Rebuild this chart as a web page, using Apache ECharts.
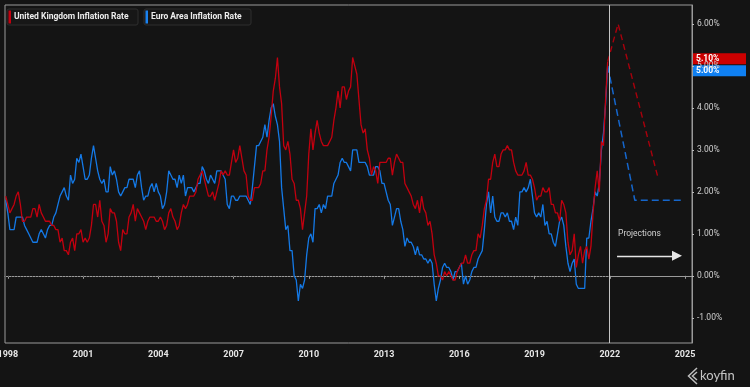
<!DOCTYPE html>
<html><head><meta charset="utf-8">
<script src="https://cdn.jsdelivr.net/npm/echarts@6/dist/echarts.min.js"></script>
<style>html,body{margin:0;padding:0;background:#141414;}#c{width:750px;height:387px;}</style>
</head><body><div id="c"></div>
<script>
// ---- DATA ----
const startYear = 1997, startMonth = 11; // first monthly observation: Nov 1997 (month-end)
const seriesNames = ['United Kingdom Inflation Rate', 'Euro Area Inflation Rate'];
const ukCPI = [
 1.9,1.7,
 1.5,1.6,1.7,1.9,2.0,1.7,1.3,1.3,1.4,1.4,1.4,1.6,
 1.6,1.4,1.7,1.5,1.4,1.3,1.3,1.3,1.2,1.2,1.1,1.1,
 0.8,0.9,0.6,0.6,0.5,0.8,0.9,0.6,1.0,1.0,1.1,0.8,
 0.9,0.8,0.9,1.2,1.7,1.7,1.4,1.8,1.3,1.2,0.8,1.0,
 1.6,1.5,1.5,1.3,0.8,0.6,1.1,1.0,1.0,1.4,1.5,1.7,
 1.3,1.6,1.5,1.4,1.3,1.1,1.3,1.4,1.4,1.4,1.3,1.3,
 1.4,1.3,1.1,1.2,1.5,1.6,1.4,1.3,1.1,1.2,1.5,1.7,
 1.6,1.7,1.9,1.9,1.9,2.0,2.3,2.4,2.5,2.3,2.1,1.9,
 1.9,2.0,1.8,2.0,2.2,2.5,2.4,2.5,2.4,2.4,2.7,3.0,
 2.7,2.8,3.1,2.8,2.5,2.4,1.9,1.8,1.8,2.1,2.1,2.1,
 2.2,2.5,2.5,3.0,3.3,3.8,4.4,4.7,5.2,4.5,4.1,3.1,
 3.0,3.2,2.9,2.3,2.2,1.8,1.8,1.6,1.1,1.5,1.9,2.9,
 3.5,3.0,3.4,3.7,3.4,3.2,3.1,3.1,3.1,3.2,3.3,3.7,
 4.0,4.4,4.0,4.5,4.5,4.2,4.4,4.5,5.2,5.0,4.8,4.2,
 3.6,3.4,3.5,3.0,2.8,2.4,2.6,2.5,2.2,2.7,2.7,2.7,
 2.7,2.8,2.8,2.4,2.7,2.9,2.8,2.7,2.7,2.2,2.1,2.0,
 1.9,1.7,1.6,1.8,1.5,1.9,1.6,1.5,1.2,1.3,1.0,0.5,
 0.3,0.0,0.0,-0.1,0.1,0.0,0.1,0.0,-0.1,-0.1,0.1,0.2,
 0.3,0.3,0.5,0.3,0.3,0.5,0.6,0.6,1.0,0.9,1.2,1.6,
 1.8,2.3,2.3,2.7,2.9,2.6,2.6,2.9,3.0,3.0,3.1,3.0,
 3.0,2.7,2.5,2.4,2.4,2.4,2.5,2.7,2.4,2.4,2.3,2.1,
 1.8,1.9,1.9,2.1,2.0,2.0,2.1,1.7,1.7,1.5,1.5,1.3,
 1.8,1.7,1.5,0.8,0.5,0.6,1.0,0.2,0.5,0.7,0.3,0.6,
 0.7,0.4,0.7,1.5,2.1,2.5,2.0,3.2,3.1,4.2,5.1
];
const eaHICP = [
 1.8,1.5,
 1.1,1.1,1.1,1.4,1.4,1.4,1.4,1.2,1.1,1.0,0.9,0.8,
 0.8,0.8,1.0,1.1,1.0,0.9,1.1,1.2,1.2,1.4,1.5,1.7,
 1.9,2.0,2.1,1.9,1.8,2.4,2.2,2.3,2.8,2.7,2.9,2.6,
 2.3,2.3,2.4,2.8,3.1,2.8,2.5,2.3,2.2,2.3,2.0,2.0,
 2.6,2.4,2.5,2.3,2.0,1.9,2.0,2.1,2.1,2.3,2.3,2.3,
 2.1,2.4,2.5,2.1,1.8,1.9,1.9,2.1,2.2,2.0,2.2,2.0,
 1.9,1.6,1.7,2.0,2.5,2.4,2.3,2.3,2.1,2.4,2.2,2.4,
 1.9,2.1,2.1,2.1,2.0,2.1,2.2,2.2,2.6,2.5,2.3,2.2,
 2.4,2.3,2.2,2.5,2.5,2.5,2.4,2.3,1.7,1.6,1.9,1.9,
 1.8,1.8,1.9,1.9,1.9,1.9,1.8,1.7,2.1,2.6,3.1,3.1,
 3.2,3.3,3.6,3.3,3.7,4.0,4.1,3.8,3.6,3.2,2.1,1.6,
 1.1,1.2,0.6,0.6,0.0,-0.1,-0.6,-0.2,-0.3,-0.1,0.5,0.9,
 1.0,0.8,1.6,1.6,1.7,1.5,1.7,1.6,1.9,1.9,1.9,2.2,
 2.3,2.4,2.7,2.8,2.7,2.7,2.6,2.5,3.0,3.0,3.0,2.7,
 2.7,2.7,2.7,2.6,2.4,2.4,2.4,2.6,2.6,2.5,2.2,2.2,
 2.0,1.8,1.7,1.2,1.4,1.6,1.6,1.3,1.1,0.7,0.9,0.8,
 0.8,0.7,0.5,0.7,0.5,0.5,0.4,0.4,0.3,0.4,0.3,-0.2,
 -0.6,-0.3,-0.1,0.2,0.3,0.2,0.2,0.1,-0.1,0.1,0.1,0.2,
 0.3,-0.2,0.0,-0.2,-0.1,0.1,0.2,0.2,0.4,0.5,0.6,1.1,
 1.7,2.0,1.5,1.9,1.4,1.3,1.3,1.5,1.5,1.4,1.5,1.3,
 1.3,1.1,1.4,1.2,2.0,2.0,2.1,2.0,2.1,2.3,1.9,1.5,
 1.4,1.5,1.4,1.7,1.2,1.3,1.0,1.0,0.8,0.7,1.0,1.3,
 1.4,1.2,0.7,0.3,0.1,0.3,0.4,-0.2,-0.3,-0.3,-0.3,-0.3,
 0.9,0.9,1.3,1.6,2.0,1.9,2.2,3.0,3.4,4.1,5.0
];
// projections (decimal year, value)
const ukProjYears = [2021.917, 2022.333, 2023.917];
const ukProjValues = [5.1, 6.0, 2.35];
const eaProjYears = [2021.917, 2023.0, 2024.917];
const eaProjValues = [5.0, 1.8, 1.8];
const xTickYears = [1998, 2001, 2004, 2007, 2010, 2013, 2016, 2019, 2022, 2025];
const yTickValues = [-1, 0, 1, 2, 3, 4, 5, 6];
const dividerYear = 2022;
const projectionText = 'Projections';
const projectionArrowY = 0.476;
const projectionArrowX = [2022.29, 2024.68];
const projectionTextPos = [2022.33, 1.0];

// ---- BUILD ----
const UK_RED = '#c3000f', EA_BLUE = '#1479e6';
function toPairs(values) {
  return values.map((v, i) => {
    const mi = startMonth - 1 + i;
    const y = startYear + Math.floor(mi / 12);
    const mo = mi % 12 + 1;
    return [y + mo / 12, v];
  });
}
function zip(xs, ys) { return xs.map((x, i) => [x, ys[i]]); }
const X_MIN = 1997.888, X_MAX = 2025.279;
const FONT = 'Roboto';

const chart = echarts.init(document.getElementById('c'), null, {renderer: 'canvas'});
chart.setOption({
  backgroundColor: '#141414',
  animation: false,
  grid: {left: 5, right: 58, top: 5, bottom: 44, show: true, borderColor: '#9a9a9a', borderWidth: 1,
    backgroundColor: 'transparent', containLabel: false, outerBoundsMode: 'none'},
  xAxis: {
    type: 'value', min: X_MIN, max: X_MAX,
    axisLine: {show: true, lineStyle: {color: '#9a9a9a'}},
    axisTick: {show: true, customValues: xTickYears, length: 3, lineStyle: {color: '#9a9a9a'}},
    axisLabel: {customValues: xTickYears, formatter: v => String(Math.round(v)), color: '#e6e6e6',
      fontSize: 9, fontWeight: 'bold', margin: 7, fontFamily: FONT, hideOverlap: false},
    splitLine: {show: false}
  },
  yAxis: {
    type: 'value', position: 'right', min: -1.6, max: 6.45,
    axisLine: {show: true, lineStyle: {color: '#9a9a9a'}},
    axisTick: {show: true, customValues: yTickValues, length: 2, lineStyle: {color: '#bbbbbb'}},
    axisLabel: {customValues: yTickValues, formatter: v => v.toFixed(2) + '%', color: '#d0d0d0',
      fontSize: 8.5, margin: 5, fontFamily: FONT},
    splitLine: {show: false}
  },
  series: [
    {
      name: seriesNames[1], type: 'line', data: toPairs(eaHICP), showSymbol: false,
      lineStyle: {color: EA_BLUE, width: 1.3}, z: 3,
      markLine: {
        silent: true, symbol: 'none', label: {show: false},
        data: [
          [{coord: [X_MIN, 0]}, {coord: [dividerYear, 0], lineStyle: {type: [1, 2], color: '#555555', width: 1}}],
          {xAxis: dividerYear - 0.03, lineStyle: {type: 'solid', color: '#c4c4c4', width: 1}}
        ]
      }
    },
    {
      name: seriesNames[0], type: 'line', data: toPairs(ukCPI), showSymbol: false,
      lineStyle: {color: UK_RED, width: 1.3}, z: 4
    },
    {
      name: seriesNames[0] + ' projection', type: 'line', data: zip(ukProjYears, ukProjValues), showSymbol: false,
      lineStyle: {color: '#a8000c', width: 1.4, type: [6, 4]}, z: 2
    },
    {
      name: seriesNames[1] + ' projection', type: 'line', data: zip(eaProjYears, eaProjValues), showSymbol: false,
      lineStyle: {color: '#1566cc', width: 1.5, type: [7, 4]}, z: 2,
      markLine: {
        silent: true, symbol: ['none', 'triangle'], symbolSize: [10, 10], label: {show: false},
        lineStyle: {type: 'solid', color: '#e6e6e6', width: 1.3},
        data: [[{coord: [projectionArrowX[0], projectionArrowY]}, {coord: [projectionArrowX[1], projectionArrowY]}]]
      },
      markPoint: {
        silent: true,
        data: [{coord: projectionTextPos, symbol: 'circle', symbolSize: 0,
          label: {show: true, position: 'right', distance: 0, formatter: projectionText,
            color: '#d0d0d0', fontSize: 8.5, fontFamily: FONT}}]
      }
    }
  ]
});

// end-value labels on the right axis
const lastUK = ukCPI[ukCPI.length - 1], lastEA = eaHICP[eaHICP.length - 1];
const pUK = chart.convertToPixel({gridIndex: 0}, [X_MAX, lastUK]);
const pEA = chart.convertToPixel({gridIndex: 0}, [X_MAX, lastEA]);
const mid = (pUK[1] + pEA[1]) / 2;
const ukC = mid - 5, eaC = mid + 7;
function endLabel(cy, color, txt) {
  return {type: 'group', children: [
    {type: 'rect', shape: {x: 693, y: cy - 5.5, width: 53, height: 11}, style: {fill: color}},
    {type: 'text', x: 696, y: cy, style: {text: txt, fill: '#ffffff', font: 'bold 8.5px Roboto', textVerticalAlign: 'middle'}}
  ]};
}
function legendItem(x, w, color, txt) {
  return {type: 'group', children: [
    {type: 'rect', shape: {x: x, y: 9, width: w, height: 16, r: 2}, style: {fill: '#171717', stroke: '#2e2e2e', lineWidth: 1}},
    {type: 'rect', shape: {x: x + 1.5, y: 10.5, width: 2.5, height: 13}, style: {fill: color}},
    {type: 'text', x: x + 7, y: 17, style: {text: txt, fill: '#ececec', font: 'bold 8.5px Roboto', textVerticalAlign: 'middle'}}
  ]};
}
chart.setOption({
  graphic: [
    endLabel(ukC, '#cc0000', lastUK.toFixed(2) + '%'),
    endLabel(eaC, '#0f80f2', lastEA.toFixed(2) + '%'),
    legendItem(7, 131, UK_RED, seriesNames[0]),
    legendItem(144, 107, '#1a82f0', seriesNames[1]),
    {type: 'polyline', shape: {points: [[697, 368], [688.5, 376], [697, 384]]}, style: {stroke: '#bdbdbd', lineWidth: 1.5, fill: null}},
    {type: 'polyline', shape: {points: [[697, 372], [692.5, 376], [697, 380]]}, style: {stroke: '#bdbdbd', lineWidth: 1.5, fill: null}},
    {type: 'text', x: 700, y: 376, style: {text: 'koyfin', fill: '#c4c4c4', font: '13px Lato', textVerticalAlign: 'middle'}}
  ]
});
</script></body></html>
